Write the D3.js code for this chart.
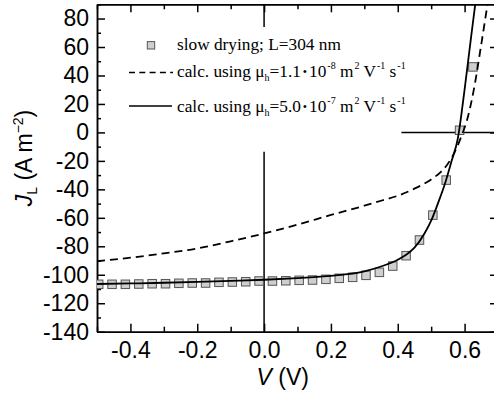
<!DOCTYPE html>
<html>
<head>
<meta charset="utf-8">
<script src="https://cdn.jsdelivr.net/npm/d3@7"></script>
<style>
	body { margin: 0; background: #fff; }
	svg { display: block; }
</style>
</head>
<body>
<div id="wrapper"></div>
<script>

	// 1. Data

	// measured points, slow drying
	const measV = [-0.495, -0.455, -0.415, -0.375, -0.335, -0.295, -0.255, -0.215, -0.175, -0.135,
		-0.095, -0.055, -0.015, 0.025, 0.065, 0.105, 0.145, 0.185, 0.225, 0.265,
		0.305, 0.345, 0.385, 0.425, 0.465, 0.505, 0.545, 0.585, 0.625];
	const measJ = [-106.7, -106.7, -106.7, -106.5, -106.3, -106.3, -106.0, -105.8, -105.8, -105.3,
		-105.1, -104.9, -104.4, -104.4, -104.2, -103.9, -103.7, -103.2, -102.5, -101.8,
		-100.4, -98.3, -93.9, -86.6, -75.6, -58.1, -33.5, 1.5, 46];

	// calc. with mu_h = 1.1e-8 (dashed)
	const lowV = [-0.5, -0.4, -0.3, -0.2, -0.1, 0, 0.1, 0.2, 0.3, 0.35, 0.4, 0.45, 0.5,
		0.53, 0.55, 0.57, 0.59, 0.61, 0.63, 0.65, 0.67, 0.69];
	const lowJ = [-90.5, -88, -85, -81.5, -76.5, -71, -64.8, -58, -51.5, -48, -44.5, -39.5, -33,
		-27.5, -22, -14, -3, 11, 33, 62, 92, 122];

	// calc. with mu_h = 5.0e-7 (solid)
	const highV = [-0.5, -0.4, -0.3, -0.2, -0.1, 0, 0.1, 0.15, 0.2, 0.25, 0.3, 0.35, 0.4,
		0.425, 0.45, 0.48, 0.5, 0.52, 0.54, 0.56, 0.58, 0.6, 0.62, 0.64];
	const highJ = [-106.5, -106.1, -105.6, -105.0, -104.3, -103.5, -102.4, -101.7, -100.8, -99.6,
		-97.6, -94.2, -89.5, -86, -81, -71, -62, -50, -37, -21, -4, 30, 68, 105];

	const xMajor = [-0.4, -0.2, 0.0, 0.2, 0.4, 0.6];
	const xMinor = [-0.5, -0.3, -0.1, 0.1, 0.3, 0.5, 0.7];
	const yMajor = [-140, -120, -100, -80, -60, -40, -20, 0, 20, 40, 60, 80];
	const yMinor = [-130, -110, -90, -70, -50, -30, -10, 10, 30, 50, 70, 90];

	// 2. Dimensions

	let dimensions = {
		width: 494,
		height: 393,
		margin: { top: 4.3, right: -4, bottom: 61.3, left: 97 }
	};
	dimensions.boundedWidth = dimensions.width - dimensions.margin.left - dimensions.margin.right;
	dimensions.boundedHeight = dimensions.height - dimensions.margin.top - dimensions.margin.bottom;

	const sans = "'Liberation Sans', Arial, Helvetica, sans-serif";
	const serif = "'Liberation Serif', 'Times New Roman', serif";

	// 3. Static elements

	const wrapper = d3.select("#wrapper")
		.append("svg")
		.attr("width", dimensions.width)
		.attr("height", dimensions.height);

	const bounds = wrapper.append("g")
		.attr("transform", `translate(${dimensions.margin.left},${dimensions.margin.top})`);

	const x = d3.scaleLinear().domain([-0.5, 0.7]).range([0, dimensions.boundedWidth]);
	const y = d3.scaleLinear().domain([-140, 90]).range([dimensions.boundedHeight, 0]);

	// 4. Axes

	function styleAxis(g) {
		g.selectAll("path, line").attr("stroke", "#000").attr("stroke-width", 1.5);
		g.selectAll("text").attr("fill", "#000").style("font-family", sans).style("font-size", "23px");
	}

	bounds.append("g")
		.attr("transform", `translate(0,${dimensions.boundedHeight})`)
		.call(d3.axisBottom(x).tickValues(xMajor).tickFormat(d3.format(".1f"))
			.tickSize(-8).tickSizeOuter(0).tickPadding(10))
		.call(styleAxis)
		.call(g => g.selectAll("text").text(d => d3.format(".1f")(d).replace("−", "-")));

	bounds.append("g")
		.attr("transform", `translate(0,${dimensions.boundedHeight})`)
		.call(d3.axisBottom(x).tickValues(xMinor).tickFormat("").tickSize(-5).tickSizeOuter(0))
		.call(styleAxis);

	bounds.append("g")
		.call(d3.axisTop(x).tickValues(xMajor).tickFormat("").tickSize(-8).tickSizeOuter(0))
		.call(styleAxis);
	bounds.append("g")
		.call(d3.axisTop(x).tickValues(xMinor).tickFormat("").tickSize(-5).tickSizeOuter(0))
		.call(styleAxis);

	bounds.append("g")
		.call(d3.axisLeft(y).tickValues(yMajor).tickFormat(d => String(d))
			.tickSize(-8).tickSizeOuter(0).tickPadding(8))
		.call(styleAxis);
	bounds.append("g")
		.call(d3.axisLeft(y).tickValues(yMinor).tickFormat("").tickSize(-4).tickSizeOuter(0))
		.call(styleAxis);

	bounds.append("g")
		.attr("transform", `translate(${dimensions.boundedWidth},0)`)
		.call(d3.axisRight(y).tickValues(yMajor).tickFormat("").tickSize(-8).tickSizeOuter(0))
		.call(styleAxis);
	bounds.append("g")
		.attr("transform", `translate(${dimensions.boundedWidth},0)`)
		.call(d3.axisRight(y).tickValues(yMinor).tickFormat("").tickSize(-4).tickSizeOuter(0))
		.call(styleAxis);

	// crosshair marks at V=0 and J=0
	bounds.append("line")
		.attr("x1", x(0)).attr("x2", x(0))
		.attr("y1", y(90)).attr("y2", y(74))
		.attr("stroke", "#000").attr("stroke-width", 1.5);
	bounds.append("line")
		.attr("x1", x(0)).attr("x2", x(0))
		.attr("y1", y(-13.5)).attr("y2", y(-140))
		.attr("stroke", "#000").attr("stroke-width", 1.5);
	bounds.append("line")
		.attr("x1", x(0.411)).attr("x2", x(0.7))
		.attr("y1", y(0)).attr("y2", y(0))
		.attr("stroke", "#000").attr("stroke-width", 1.5);

	// 5. Marks

	const clip = wrapper.append("clipPath").attr("id", "plot-clip")
		.append("rect")
		.attr("width", dimensions.boundedWidth)
		.attr("height", dimensions.boundedHeight);

	const plot = bounds.append("g").attr("clip-path", "url(#plot-clip)");

	const meas = d3.zip(measV, measJ);
	const sq = 8.5;
	plot.selectAll("rect.pt")
		.data(meas)
		.enter()
		.append("rect")
		.attr("class", "pt")
		.attr("x", d => x(d[0]) - sq / 2)
		.attr("y", d => y(d[1]) - sq / 2)
		.attr("width", sq)
		.attr("height", sq)
		.style("fill", "#cfcfcf")
		.style("stroke", "#555")
		.style("stroke-width", 1);

	const line = d3.line()
		.x(d => x(d[0]))
		.y(d => y(d[1]))
		.curve(d3.curveMonotoneX);

	plot.append("path")
		.datum(d3.zip(lowV, lowJ))
		.attr("d", line)
		.attr("fill", "none")
		.attr("stroke", "#000")
		.attr("stroke-width", 1.8)
		.attr("stroke-dasharray", "8,5");

	plot.append("path")
		.datum(d3.zip(highV, highJ))
		.attr("d", line)
		.attr("fill", "none")
		.attr("stroke", "#000")
		.attr("stroke-width", 1.8);

	// 6. Legend

	const legend = wrapper.append("g");

	legend.append("rect")
		.attr("x", 151 - 3.7).attr("y", 45.3 - 3.7)
		.attr("width", 7.4).attr("height", 7.4)
		.style("fill", "#cfcfcf").style("stroke", "#555").style("stroke-width", 1);

	legend.append("line")
		.attr("x1", 129).attr("x2", 173).attr("y1", 72.5).attr("y2", 72.5)
		.attr("stroke", "#000").attr("stroke-width", 1.6).attr("stroke-dasharray", "6,4.3");

	legend.append("line")
		.attr("x1", 129).attr("x2", 172).attr("y1", 106).attr("y2", 106)
		.attr("stroke", "#000").attr("stroke-width", 1.6);

	const legText = (yy) => legend.append("text")
		.attr("x", 177).attr("y", yy)
		.style("font-family", serif).style("font-size", "17.3px").attr("fill", "#000");

	legText(50).text("slow drying; L=304 nm");

	function calcLabel(t, mant, expo) {
		t.append("tspan").text("calc. using \u03bc");
		t.append("tspan").attr("dy", 4).style("font-size", "10px").text("h");
		t.append("tspan").attr("dy", -4).text("=" + mant);
		t.append("tspan").attr("dx", 2).attr("dy", -1).style("font-size", "12px").text("\u2022");
		t.append("tspan").attr("dx", 2).attr("dy", 1).text("10");
		t.append("tspan").attr("dx", 1).attr("dy", -8).style("font-size", "10px").text(expo);
		t.append("tspan").attr("dy", 8).text(" m");
		t.append("tspan").attr("dx", 1).attr("dy", -8).style("font-size", "10px").text("2");
		t.append("tspan").attr("dy", 8).text(" V");
		t.append("tspan").attr("dx", 1).attr("dy", -8).style("font-size", "10px").text("-1");
		t.append("tspan").attr("dy", 8).text(" s");
		t.append("tspan").attr("dx", 1).attr("dy", -8).style("font-size", "10px").text("-1");
	}
	calcLabel(legText(77), "1.1", "-8");
	calcLabel(legText(111.5), "5.0", "-7");

	// 7. Axis titles

	const yTitle = wrapper.append("text")
		.attr("transform", "translate(32,158) rotate(-90)")
		.attr("text-anchor", "middle")
		.style("font-family", sans).style("font-size", "23px").attr("fill", "#000");
	yTitle.append("tspan").style("font-style", "italic").text("J");
	yTitle.append("tspan").attr("dy", 5).style("font-size", "14px").text("L");
	yTitle.append("tspan").attr("dy", -5).text(" (A m");
	yTitle.append("tspan").attr("dy", -9).style("font-size", "14px").text("\u22122");
	yTitle.append("tspan").attr("dy", 9).text(")");

	const xTitle = wrapper.append("text")
		.attr("x", dimensions.margin.left + x(0.056))
		.attr("y", 385)
		.attr("text-anchor", "middle")
		.style("font-family", sans).style("font-size", "23px").attr("fill", "#000");
	xTitle.append("tspan").style("font-style", "italic").text("V");
	xTitle.append("tspan").text(" (V)");

</script>
</body>
</html>
